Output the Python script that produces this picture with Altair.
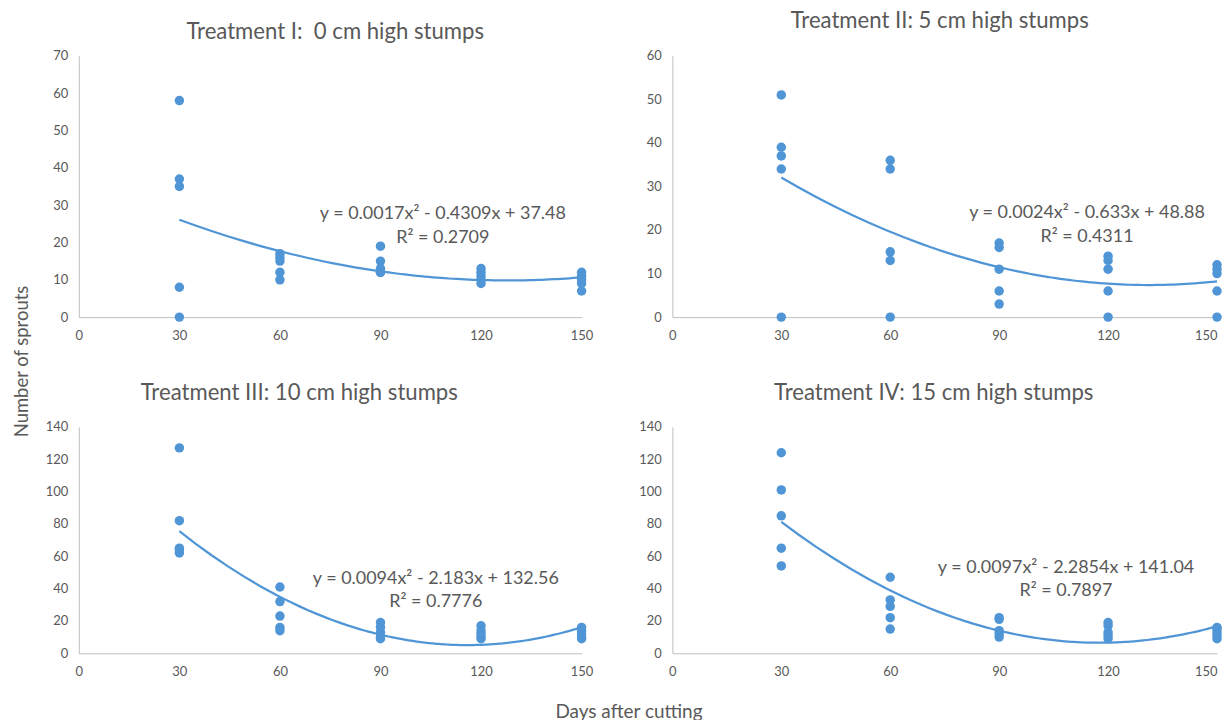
import altair as alt
import pandas as pd

# ---------------- data ----------------
day_groups = [30, 60, 90, 120, 150]

t1_30 = [58, 37, 35, 8, 0]
t1_60 = [17, 16, 15, 12, 10]
t1_90 = [19, 15, 13, 12, 12]
t1_120 = [13, 12, 11, 10, 9]
t1_150 = [12, 11, 10, 9, 7]

t2_30 = [51, 39, 37, 34, 0]
t2_60 = [36, 34, 15, 13, 0]
t2_90 = [17, 16, 11, 6, 3]
t2_120 = [14, 13, 11, 6, 0]
t2_150 = [12, 11, 10, 6, 0]

t3_30 = [127, 82, 65, 64, 62]
t3_60 = [41, 32, 23, 16, 14]
t3_90 = [19, 16, 13, 10, 9]
t3_120 = [17, 14, 12, 10, 9]
t3_150 = [16, 14, 12, 10, 9]

t4_30 = [124, 101, 85, 65, 54]
t4_60 = [47, 33, 29, 22, 15]
t4_90 = [22, 21, 14, 12, 10]
t4_120 = [19, 17, 13, 11, 9]
t4_150 = [16, 15, 13, 11, 9]

titles = [
    "Treatment I:\u00a0 0 cm high stumps",
    "Treatment II: 5 cm high stumps",
    "Treatment III: 10 cm high stumps",
    "Treatment IV: 15 cm high stumps",
]
equations = [
    "y = 0.0017x² - 0.4309x + 37.48",
    "y = 0.0024x² - 0.633x + 48.88",
    "y = 0.0094x² - 2.183x + 132.56",
    "y = 0.0097x² - 2.2854x + 141.04",
]
r_squared = ["R² = 0.2709", "R² = 0.4311", "R² = 0.7776", "R² = 0.7897"]

# label anchor positions in data units (x, y of line 1, y of line 2)
label_x = [108.6, 114.2, 106.5, 108.4]
label_y1 = [27.5, 23.8, 45.7, 53.0]
label_y2 = [21.3, 18.3, 31.5, 38.2]

x_ticks = [0, 30, 60, 90, 120, 150]
y_max = [70, 60, 140, 140]
y_step = [10, 10, 20, 20]

groups = [
    [t1_30, t1_60, t1_90, t1_120, t1_150],
    [t2_30, t2_60, t2_90, t2_120, t2_150],
    [t3_30, t3_60, t3_90, t3_120, t3_150],
    [t4_30, t4_60, t4_90, t4_120, t4_150],
]

# ---------------- style ----------------
BLUE = "#5096D6"
TEXT = "#595959"
AXIS = "#BFBFBF"
FONT = "Lato"

widths = [504, 546, 504, 546]
heights = [262, 262, 227, 227]
title_dy = [11, 0, 1, 1]
title_dx = [5, -5, -31, -11]


def make_panel(i):
    days, vals = [], []
    for d, g in zip(day_groups, groups[i]):
        for v in g:
            days.append(d)
            vals.append(v)
    df = pd.DataFrame({"day": days, "sprouts": vals})
    right = i in (1, 3)
    xaxis_kwargs = dict(
        values=x_ticks, ticks=False, grid=False, domainColor=AXIS,
        labelColor=TEXT, labelFont=FONT, labelFontSize=13, labelPadding=12,
        labelFlush=False,
    )
    if right:
        xaxis_kwargs["labelAlign"] = {
            "condition": {"test": "datum.value == 150", "value": "right"},
            "value": "center",
        }
    yaxis_kwargs = dict(
        values=list(range(0, y_max[i] + 1, y_step[i])), ticks=False, grid=False,
        domainColor=AXIS, labelColor=TEXT, labelFont=FONT, labelFontSize=13,
        labelPadding=11, labelFlush=False,
    )
    xaxis_kwargs["title"] = None
    yaxis_kwargs["title"] = None
    if i == 2:
        xaxis_kwargs.update(
            title="Days after cutting", titleFont=FONT, titleFontSize=19,
            titleFontWeight="normal", titleColor=TEXT, titleX=551, titleY=58,
            titleBaseline="middle", titleAlign="center",
        )
    if i == 0:
        yaxis_kwargs.update(
            title="Number of sprouts", titleFont=FONT, titleFontSize=18.5,
            titleFontWeight="normal", titleColor=TEXT, titleX=-57.5, titleY=306,
            titleBaseline="middle", titleAlign="center", titleAngle=270,
        )

    X = alt.X("day:Q", scale=alt.Scale(domain=[0, 150], nice=False, zero=True),
              axis=alt.Axis(**xaxis_kwargs))
    Y = alt.Y("sprouts:Q", scale=alt.Scale(domain=[0, y_max[i]], nice=False),
              axis=alt.Axis(**yaxis_kwargs))

    base = alt.Chart(df)
    pts = base.mark_circle(size=90, color=BLUE, opacity=1).encode(x=X, y=Y)
    fit = (
        base.transform_regression("day", "sprouts", method="poly", order=2,
                                  extent=[30, 150])
        .mark_line(color=BLUE, strokeWidth=2.25)
        .encode(x=X, y=Y)
    )
    ann_df = pd.DataFrame({
        "day": [label_x[i], label_x[i]],
        "sprouts": [label_y1[i], label_y2[i]],
        "t": [equations[i], r_squared[i]],
    })
    ann = alt.Chart(ann_df).mark_text(
        font=FONT, fontSize=18, color=TEXT, baseline="middle", align="center"
    ).encode(x=X, y=Y, text="t:N")

    return alt.layer(pts, fit, ann).properties(
        width=widths[i], height=heights[i],
        title=alt.TitleParams(
            titles[i], font=FONT, fontSize=22.2, fontWeight="normal", color=TEXT,
            anchor="middle", frame="group", offset=0, dx=title_dx[i],
            dy=title_dy[i], baseline="alphabetic",
        ),
    )


panels = [make_panel(i) for i in range(4)]

chart = alt.concat(
    *panels, columns=2, spacing={"row": 110, "column": 91}, bounds="flush",
    align="each",
).properties(
    padding={"left": 4, "top": 0, "right": 2, "bottom": 2},
    background="white",
).configure_view(stroke=None)

chart.save("out.html", embed_options={"renderer": "svg", "actions": False})
